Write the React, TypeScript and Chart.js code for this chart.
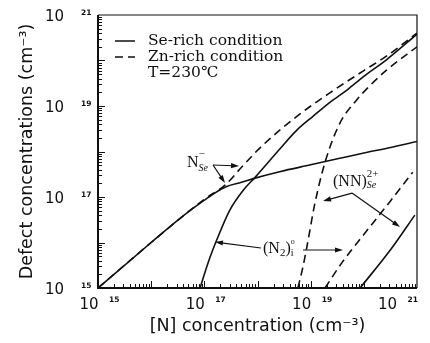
import React, { useEffect, useRef } from 'react';
import { Chart, registerables } from 'chart.js';

Chart.register(...registerables);

// ---------- axis ranges & tick labels ----------
const X_MIN = 1e15;
const X_MAX = 1e21;
const Y_MIN = 1e15;
const Y_MAX = 1e21;
const labelledTickValues = [1e15, 1e17, 1e19, 1e21];
const tickBaseLabels = ['10', '10', '10', '10'];
const tickExponentLabels = ['15', '17', '19', '21'];
const decadeExponents = [15, 16, 17, 18, 19, 20];
const minorMultipliers = [1, 2, 3, 4, 5, 6, 7, 8, 9];

const xAxisTitle = '[N] concentration (cm⁻³)';
const yAxisTitle = 'Defect concentrations (cm⁻³)';

// ---------- series ----------
// N_Se^- , Se-rich condition (solid)
const nSeSeRichX = [1e15, 1e16, 3.5e16, 1e17, 1.5e17, 2.5e17, 5e17, 9e17, 2.6e18, 1e19, 3.2e19, 1e20, 3.2e20, 1e21];
const nSeSeRichY = [1e15, 1e16, 3.4e16, 8.5e16, 1.18e17, 1.66e17, 2.1e17, 2.6e17, 3.6e17, 5.1e17, 6.9e17, 9.3e17, 1.23e18, 1.66e18];

// N_Se^- , Zn-rich condition (dashed)
const nSeZnRichX = [1e15, 1e16, 1e17, 2.5e17, 5e17, 1.26e18, 5.5e18, 2.3e19, 1e20, 2.7e20, 1e21];
const nSeZnRichY = [1e15, 1e16, 8.9e16, 1.86e17, 4.5e17, 1.38e18, 5.9e18, 1.95e19, 6e19, 1.26e20, 4e20];

// (N2)i^0 , Se-rich condition (solid)
const n2iSeRichX = [8.3e16, 1e17, 1.26e17, 1.7e17, 3e17, 5.4e17, 9e17, 2.6e18, 5.5e18, 1.12e19, 2.3e19, 4.8e19, 1e20, 2.7e20, 1e21];
const n2iSeRichY = [1e15, 2e15, 4.5e15, 1.12e16, 5.1e16, 1.41e17, 2.7e17, 1.12e18, 2.95e18, 6e18, 1.2e19, 2.24e19, 4.5e19, 1.05e20, 3.8e20];

// steep dashed curve, Zn-rich condition
const steepZnRichX = [5.75e18, 7.1e18, 8.5e18, 1.2e19, 1.86e19, 3.55e19, 7.2e19, 1.26e20, 2.7e20, 1e21];
const steepZnRichY = [1e15, 2.8e15, 8.1e15, 7.2e16, 5.75e17, 4.2e18, 1.32e19, 2.7e19, 6.2e19, 2e20];

// (NN)_Se^2+ , Se-rich condition (solid)
const nnSeRichX = [8.5e19, 3.2e20, 9.1e20];
const nnSeRichY = [1e15, 7e15, 4e16];

// straight dashed curve, Zn-rich condition
const straightZnRichX = [1.86e19, 4e19, 1e20, 3.2e20, 8.3e20];
const straightZnRichY = [1e15, 3.8e15, 1.5e16, 8.3e16, 3.5e17];

// ---------- legend & annotation text ----------
const legendLabels = ['Se-rich condition', 'Zn-rich condition'];
const legendNote = 'T=230℃';

type Pt = { x: number; y: number };
const nSeLabelAnchor: Pt = { x: 4.72e16, y: 4.56e17 };
const nSeArrowBase: Pt = { x: 1.456e17, y: 5.05e17 };
const nSeArrowTips: Pt[] = [{ x: 4.49e17, y: 4.8e17 }, { x: 2.45e17, y: 2.03e17 }];

const n2LabelAnchor: Pt = { x: 1.27e18, y: 5.88e15 };
const n2Arrows: [Pt, Pt][] = [
  [{ x: 1.16e18, y: 7.57e15 }, { x: 1.585e17, y: 1.026e16 }],
  [{ x: 7.18e18, y: 6.84e15 }, { x: 4.06e19, y: 6.84e15 }],
];

const nnLabelAnchor: Pt = { x: 2.63e19, y: 1.75e17 };
const nnArrowBase: Pt = { x: 5.98e19, y: 1.22e17 };
const nnArrowTips: Pt[] = [{ x: 1.71e19, y: 8.17e16 }, { x: 4.79e20, y: 2.19e16 }];

type Run = { text: string; size: number; dy: number; italic?: boolean; stack?: boolean };
const nSeRuns: Run[] = [
  { text: 'N', size: 16, dy: 0 },
  { text: 'Se', size: 10, dy: 4, italic: true },
  { text: '−', size: 11, dy: -10, stack: true },
];
const n2Runs: Run[] = [
  { text: '(N', size: 16, dy: 0 },
  { text: '2', size: 11, dy: 3 },
  { text: ')', size: 16, dy: 0 },
  { text: 'o', size: 8, dy: -9 },
  { text: 'i', size: 10, dy: 3, stack: true },
];
const nnRuns: Run[] = [
  { text: '(NN)', size: 16, dy: 0 },
  { text: '2+', size: 11, dy: -9 },
  { text: 'Se', size: 10, dy: 2, italic: true, stack: true },
];

const zip = (xs: number[], ys: number[]) => xs.map((x, i) => ({ x, y: ys[i] }));

const INK = '#111';
const SANS = '"DejaVu Sans", sans-serif';
const SERIF = '"Liberation Serif", "DejaVu Serif", serif';
const LEGEND_SERIF = '"DejaVu Serif", serif';

function drawRuns(ctx: CanvasRenderingContext2D, x: number, y: number, runs: Run[]) {
  let cx = x;
  let prevStart = x;
  ctx.textAlign = 'left';
  ctx.textBaseline = 'alphabetic';
  for (const r of runs) {
    ctx.font = `${r.italic ? 'italic ' : ''}${r.size}px ${SERIF}`;
    const w = ctx.measureText(r.text).width;
    const start = r.stack ? prevStart : cx;
    ctx.fillText(r.text, start, y + r.dy);
    if (r.stack) {
      cx = Math.max(cx, start + w);
    } else {
      prevStart = start;
      cx = start + w;
    }
  }
}

function drawArrow(ctx: CanvasRenderingContext2D, x1: number, y1: number, x2: number, y2: number) {
  const ang = Math.atan2(y2 - y1, x2 - x1);
  const headLen = 8;
  const headHalf = 2.6;
  ctx.beginPath();
  ctx.moveTo(x1, y1);
  ctx.lineTo(x2 - Math.cos(ang) * headLen * 0.8, y2 - Math.sin(ang) * headLen * 0.8);
  ctx.stroke();
  ctx.beginPath();
  ctx.moveTo(x2, y2);
  ctx.lineTo(
    x2 - Math.cos(ang) * headLen - Math.sin(ang) * headHalf,
    y2 - Math.sin(ang) * headLen + Math.cos(ang) * headHalf
  );
  ctx.lineTo(
    x2 - Math.cos(ang) * headLen + Math.sin(ang) * headHalf,
    y2 - Math.sin(ang) * headLen - Math.cos(ang) * headHalf
  );
  ctx.closePath();
  ctx.fill();
}

const decorations = {
  id: 'decorations',
  afterDraw(chart: any) {
    const ctx: CanvasRenderingContext2D = chart.ctx;
    const { left, right, top, bottom } = chart.chartArea;
    const xs = chart.scales.x;
    const ys = chart.scales.y;
    const px = (p: Pt) => [xs.getPixelForValue(p.x), ys.getPixelForValue(p.y)];
    ctx.save();
    ctx.strokeStyle = INK;
    ctx.fillStyle = INK;

    // frame
    ctx.lineWidth = 1.2;
    ctx.beginPath();
    ctx.moveTo(left, top);
    ctx.lineTo(right, top);
    ctx.lineTo(right, bottom);
    ctx.stroke();
    ctx.lineWidth = 2;
    ctx.beginPath();
    ctx.moveTo(left, top);
    ctx.lineTo(left, bottom);
    ctx.lineTo(right, bottom);
    ctx.stroke();

    // inward ticks
    ctx.lineWidth = 1;
    for (const e of decadeExponents) {
      for (const m of minorMultipliers) {
        const v = m * Math.pow(10, e);
        const len = m === 1 ? 7 : 4;
        const tx = Math.round(xs.getPixelForValue(v)) + 0.5;
        const ty = Math.round(ys.getPixelForValue(v)) + 0.5;
        ctx.beginPath();
        ctx.moveTo(tx, bottom);
        ctx.lineTo(tx, bottom - len);
        ctx.moveTo(left, ty);
        ctx.lineTo(left + len, ty);
        ctx.stroke();
      }
    }

    // tick labels
    const baseFont = `15px ${SANS}`;
    const expFont = `bold 7.5px ${SANS}`;
    labelledTickValues.forEach((v, i) => {
      // y axis
      const ty = ys.getPixelForValue(v);
      ctx.textBaseline = 'middle';
      ctx.font = baseFont;
      ctx.textAlign = 'right';
      ctx.fillText(tickBaseLabels[i], 64, ty + 2.5);
      ctx.font = expFont;
      ctx.textAlign = 'left';
      ctx.fillText(tickExponentLabels[i], 81, ty - 2);
      // x axis
      const tx = xs.getPixelForValue(v);
      ctx.font = expFont;
      const ew = ctx.measureText(tickExponentLabels[i]).width;
      let shift = 0;
      if (tx + 11 + ew > right + 1) shift = tx + 11 + ew - (right + 1);
      ctx.font = baseFont;
      ctx.textAlign = 'center';
      ctx.fillText(tickBaseLabels[i], tx - 9 - shift, 305);
      ctx.font = expFont;
      ctx.textAlign = 'left';
      ctx.fillText(tickExponentLabels[i], tx + 11 - shift, 300);
    });

    // legend
    ctx.lineWidth = 1.5;
    const lx1 = left + 17;
    const lx2 = left + 37;
    const rowY = [top + 26, top + 42, top + 58];
    ctx.beginPath();
    ctx.moveTo(lx1, rowY[0]);
    ctx.lineTo(lx2, rowY[0]);
    ctx.stroke();
    ctx.setLineDash([8, 5]);
    ctx.beginPath();
    ctx.moveTo(lx1, rowY[1]);
    ctx.lineTo(lx2, rowY[1]);
    ctx.stroke();
    ctx.setLineDash([]);
    ctx.font = `15.5px ${LEGEND_SERIF}`;
    ctx.textAlign = 'left';
    ctx.textBaseline = 'middle';
    ctx.fillText(legendLabels[0], left + 50, rowY[0]);
    ctx.fillText(legendLabels[1], left + 50, rowY[1]);
    ctx.fillText(legendNote, left + 50, rowY[2]);

    // annotations
    ctx.lineWidth = 1.2;
    const [nbx, nby] = px(nSeArrowBase);
    nSeArrowTips.forEach((t) => {
      const [ax, ay] = px(t);
      drawArrow(ctx, nbx, nby, ax, ay);
    });
    n2Arrows.forEach(([a, b]) => {
      const [x1, y1] = px(a);
      const [x2, y2] = px(b);
      drawArrow(ctx, x1, y1, x2, y2);
    });
    const [bbx, bby] = px(nnArrowBase);
    nnArrowTips.forEach((t) => {
      const [ax, ay] = px(t);
      drawArrow(ctx, bbx, bby, ax, ay);
    });

    const [l1x, l1y] = px(nSeLabelAnchor);
    drawRuns(ctx, l1x, l1y, nSeRuns);
    const [l2x, l2y] = px(n2LabelAnchor);
    drawRuns(ctx, l2x, l2y, n2Runs);
    const [l3x, l3y] = px(nnLabelAnchor);
    drawRuns(ctx, l3x, l3y, nnRuns);

    ctx.restore();
  },
};

export default function App() {
  const canvasRef = useRef<HTMLCanvasElement | null>(null);

  useEffect(() => {
    const canvas = canvasRef.current;
    if (!canvas) return;
    const solid = { borderColor: INK, borderWidth: 1.6, pointRadius: 0, fill: false, cubicInterpolationMode: 'monotone' as const };
    const dashed = { ...solid, borderDash: [8, 5] };
    const chart = new Chart(canvas, {
      type: 'line',
      data: {
        datasets: [
          { label: 'N_Se⁻ Se-rich', data: zip(nSeSeRichX, nSeSeRichY), ...solid },
          { label: 'N_Se⁻ Zn-rich', data: zip(nSeZnRichX, nSeZnRichY), ...dashed },
          { label: '(N2)i Se-rich', data: zip(n2iSeRichX, n2iSeRichY), ...solid },
          { label: 'Zn-rich (steep)', data: zip(steepZnRichX, steepZnRichY), ...dashed },
          { label: '(NN)Se Se-rich', data: zip(nnSeRichX, nnSeRichY), ...solid },
          { label: 'Zn-rich (straight)', data: zip(straightZnRichX, straightZnRichY), ...dashed },
        ],
      },
      options: {
        animation: false,
        responsive: false,
        devicePixelRatio: 1,
        layout: { padding: { left: 0, top: 15, right: 13, bottom: 0 } },
        plugins: { legend: { display: false }, tooltip: { enabled: false } },
        scales: {
          x: {
            type: 'logarithmic',
            min: X_MIN,
            max: X_MAX,
            ticks: { display: false },
            grid: { display: false },
            border: { display: false },
            title: {
              display: true,
              text: xAxisTitle,
              color: INK,
              font: { family: SANS, size: 17.5 },
              padding: { top: 0, bottom: 6 },
            },
            afterFit: (s: any) => {
              s.height = 55;
            },
          },
          y: {
            type: 'logarithmic',
            min: Y_MIN,
            max: Y_MAX,
            ticks: { display: false },
            grid: { display: false },
            border: { display: false },
            title: {
              display: true,
              text: yAxisTitle,
              color: INK,
              font: { family: SANS, size: 17.5 },
              padding: { top: 17, bottom: 0 },
            },
            afterFit: (s: any) => {
              s.width = 98;
            },
          },
        },
      },
      plugins: [decorations],
    });
    return () => chart.destroy();
  }, []);

  return (
    <div style={{ position: 'fixed', left: 0, top: 0, width: 430, height: 343, background: '#fff' }}>
      <canvas ref={canvasRef} width={430} height={343} />
    </div>
  );
}
